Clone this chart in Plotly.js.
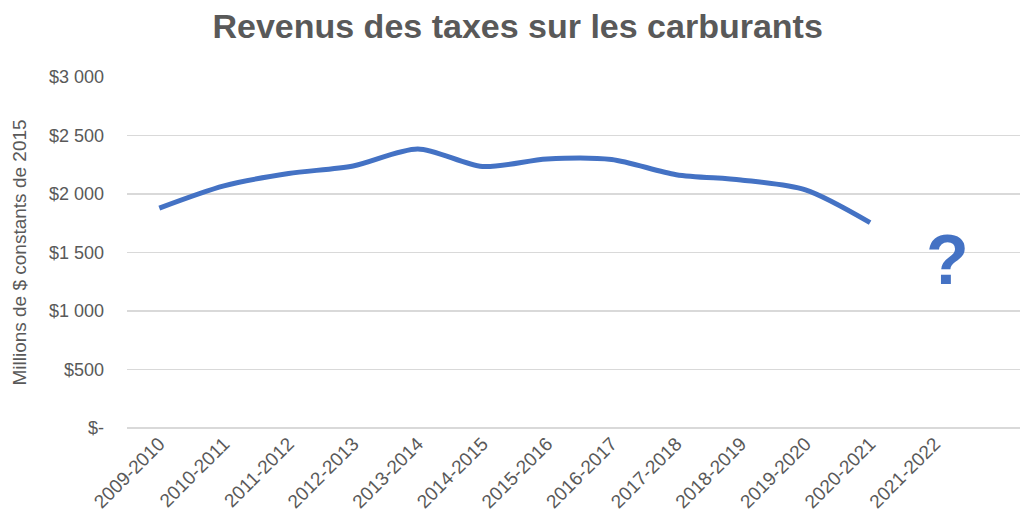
<!DOCTYPE html>
<html>
<head>
<meta charset="utf-8">
<script src="https://cdn.plot.ly/plotly-3.0.1.min.js"></script>
<style>html,body{margin:0;padding:0;background:#fff;}#chart{width:1021px;height:521px;}</style>
</head>
<body>
<div id="chart"></div>
<script>
const categories = ["2009-2010","2010-2011","2011-2012","2012-2013","2013-2014","2014-2015","2015-2016","2016-2017","2017-2018","2018-2019","2019-2020","2020-2021","2021-2022"];
const revenues = [1880, 2070, 2175, 2240, 2385, 2235, 2300, 2295, 2165, 2120, 2035, 1755];
const yTickVals = [0, 500, 1000, 1500, 2000, 2500, 3000];
const yTickText = ["$-", "$500", "$1 000", "$1 500", "$2 000", "$2 500", "$3 000"];
const unknownLabel = "?";
const unknownCategory = "2021-2022";
const unknownValue = 1440;

const trace = {
  x: categories.slice(0, revenues.length),
  y: revenues,
  type: "scatter",
  mode: "lines",
  line: {color: "#4472C4", width: 5, shape: "spline", smoothing: 0.8},
  hoverinfo: "x+y"
};

const FONT = "Liberation Sans, Arial, sans-serif";

const layout = {
  width: 1021, height: 521,
  margin: {l: 127, r: 1, t: 77, b: 93},
  paper_bgcolor: "#ffffff", plot_bgcolor: "#ffffff",
  showlegend: false,
  title: {
    text: "<b>Revenus des taxes sur les carburants</b>",
    font: {family: FONT, size: 34, color: "#595959"},
    x: 0.507, xanchor: "center", y: 0.95, yanchor: "middle"
  },
  font: {family: FONT, color: "#595959"},
  xaxis: {
    type: "category",
    categoryorder: "array",
    categoryarray: categories,
    range: [-0.5, 13.32],
    tickangle: -45,
    tickfont: {family: FONT, size: 19, color: "#595959"},
    showgrid: false, zeroline: false, showline: false,
    ticks: "", fixedrange: true
  },
  yaxis: {
    range: [0, 3000],
    tickvals: yTickVals,
    ticktext: yTickText,
    tickfont: {family: FONT, size: 18, color: "#595959"},
    ticklabelstandoff: 22,
    showgrid: true, gridcolor: "#d9d9d9", gridwidth: 1.5,
    zeroline: true, zerolinecolor: "#d9d9d9", zerolinewidth: 1.5,
    showline: false, ticks: "", ticklen: 0,
    title: {text: "Millions de $ constants de 2015", font: {family: FONT, size: 19, color: "#595959"}, standoff: 17},
    fixedrange: true
  },
  annotations: [{
    x: unknownCategory, y: unknownValue, xref: "x", yref: "y",
    text: "<b>" + unknownLabel + "</b>", showarrow: false,
    xshift: 13,
    font: {family: FONT, size: 70, color: "#4472C4"}
  }]
};

Plotly.newPlot("chart", [trace], layout, {displayModeBar: false, staticPlot: true});
</script>
</body>
</html>
